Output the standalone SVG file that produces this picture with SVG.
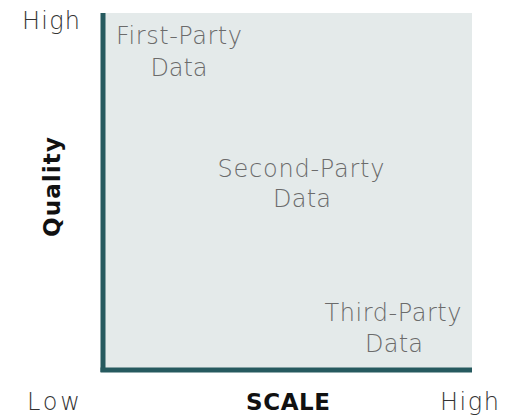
<svg xmlns="http://www.w3.org/2000/svg" width="506" height="418" viewBox="0 0 506 418">
<style>
.lbl{font-family:"DejaVu Sans","Noto Sans",sans-serif;font-size:24px;font-weight:200;fill:#6b6b6b;text-anchor:middle}
.end{font-family:"DejaVu Sans","Noto Sans",sans-serif;font-size:24px;font-weight:200;fill:#333}
.ttl{font-family:"DejaVu Sans","Noto Sans",sans-serif;font-size:23px;font-weight:700;fill:#111;text-anchor:middle}
</style>
<rect width="506" height="418" fill="#fff"/>
<g id="plot">
<rect x="101" y="13" width="371" height="357" fill="#e4eaea"/>
</g>
<g id="axes" stroke="#265a5f" stroke-width="5" fill="none">
<line x1="103" y1="13" x2="103" y2="372"/>
<line x1="100.5" y1="370" x2="472" y2="370"/>
</g>
<g id="first-party"><text class="lbl" x="179" y="44" textLength="126">First-Party</text><text class="lbl" x="179" y="76" textLength="57">Data</text></g>
<g id="second-party"><text class="lbl" x="301" y="177" textLength="167">Second-Party</text><text class="lbl" x="302" y="207" textLength="58">Data</text></g>
<g id="third-party"><text class="lbl" x="393" y="321" textLength="137">Third-Party</text><text class="lbl" x="394" y="352" textLength="58">Data</text></g>
<g id="labels">
<text class="end" x="22" y="29" textLength="58">High</text>
<text class="end" x="27" y="410" textLength="53">Low</text>
<text class="end" x="440" y="410" textLength="59">High</text>
<text class="ttl" x="288" y="410" textLength="84">SCALE</text>
<text class="ttl" transform="translate(60,187) rotate(-90)" x="0" y="0" textLength="100">Quality</text>
</g>
</svg>
